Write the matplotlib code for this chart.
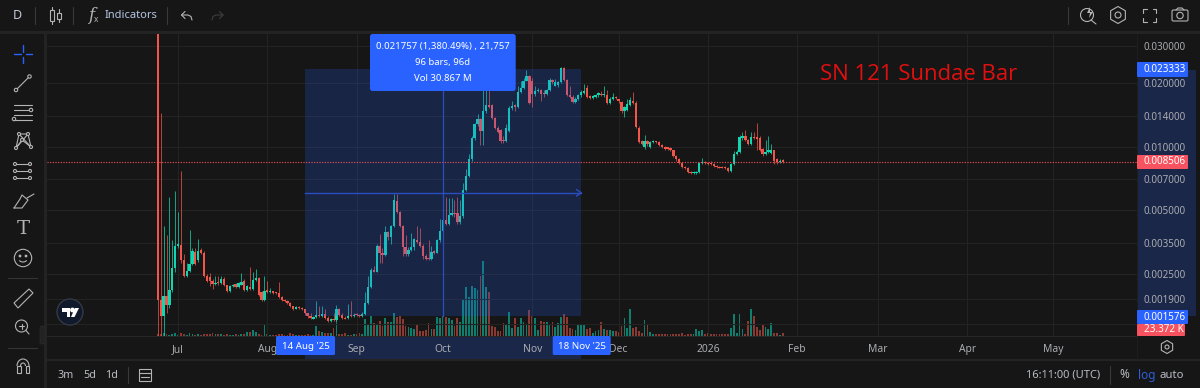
import numpy as np
import matplotlib
matplotlib.use('Agg')
import matplotlib.pyplot as plt
from matplotlib.patches import Rectangle, FancyBboxPatch, Circle, RegularPolygon, Polygon, Arc
from matplotlib.ticker import NullLocator

plt.rcParams['font.family'] = ['Noto Sans', 'DejaVu Sans']

# daily bars
opens = [
    .1200, .00187, .00158, .00195, .00178, .0021, .00265, .0034, .00343, .0029,
    .00243, .00257, .00279, .00318, .0029, .00325, .00315, .00245, .0024, .00232,
    .00224, .00226, .00225, .00237, .0022, .00208, .00218, .00224, .00216, .00222,
    .00232, .0021, .00216, .00212, .00233, .00238, .00205, .00187, .00209, .00205,
    .00207, .00203, .00202, .00193, .00188, .00186, .00182, .00175, .00171, .00173,
    .00172, .0017, .00162, .00158, .00153, .00156, .0016, .00158, .00161, .00155,
    .00149, .00153, .00151, .0017, .0016, .00155, .00154, .0016, .00158, .0016,
    .00159, .00158, .00161, .00181, .00217, .0026, .00256, .0034, .00313, .00308,
    .00395, .00372, .0042, .00555, .0049, .0042, .00335, .0031, .00325, .00335,
    .0036, .00355, .0034, .00305, .00298, .00293, .00318, .00315, .0036, .004,
    .00448, .0043, .00475, .00485, .00485, .0044, .00467, .00625, .0073, .0087,
    .011, .0128, .0135, .0119, .0147, .0157, .0158, .0137, .0123, .012,
    .0108, .0106, .0119, .0152, .0158, .0155, .0182, .019, .0206, .0216,
    .0204, .0178, .0184, .0186, .0178, .0178, .0185, .0208, .0195, .0196,
    .0202, .0236, .0208, .0176, .0173, .0163, .0169, .0175, .0179, .019,
    .0172, .0171, .0172, .0175, .0177, .0175, .0176, .0162, .0168, .0172,
    .0168, .0163, .0147, .015, .0158, .0165, .0162, .0123, .0106, .01,
    .0106, .01, .0105, .0106, .0105, .0102, .01, .0099, .0099, .0096,
    .009, .0087, .0084, .008, .0079, .0076, .0075, .0075, .0076, .0084,
    .0085, .0084, .0084, .0083, .0081, .008, .008, .008, .0079, .0077,
    .0083, .0092, .0094, .011, .0113, .0108, .0103, .0111, .0111, .011,
    .0098, .0092, .0094, .0093, .0096, .0087, .0085, .0086]
closes = [
    .00188, .00158, .00195, .00178, .0021, .00265, .0034, .00343, .0029, .00243,
    .00257, .00279, .0032, .00278, .0032, .00315, .00243, .0023, .0023, .00224,
    .00226, .00225, .00237, .0022, .00208, .00218, .00222, .00216, .00226, .00229,
    .0021, .00218, .00212, .00233, .00238, .00198, .00187, .00207, .00205, .00208,
    .00203, .00202, .00193, .00188, .00186, .00182, .00175, .00171, .00173, .00172,
    .0017, .00162, .00158, .00155, .00156, .0016, .00158, .00161, .00155, .00149,
    .00153, .00151, .0017, .0016, .00154, .00153, .00158, .00158, .0016, .00159,
    .00158, .00161, .00181, .00217, .0026, .00256, .0034, .00313, .00308, .00395,
    .00372, .0042, .0056, .0049, .0042, .00335, .0031, .00325, .00335, .00365,
    .00355, .0034, .00305, .00295, .00293, .00318, .00315, .0036, .004, .00448,
    .0043, .00475, .00485, .00478, .0044, .00467, .00625, .0073, .0087, .011,
    .0128, .0135, .0119, .0147, .0157, .0155, .0137, .0123, .0118, .0106,
    .0106, .0123, .0152, .0156, .0155, .0182, .019, .0206, .0216, .0162,
    .0178, .0184, .0186, .0178, .0177, .0185, .0208, .0203, .0203, .0203,
    .0236, .0208, .0176, .0173, .0163, .0169, .0175, .0181, .0183, .0172,
    .0171, .0172, .0175, .0179, .0176, .0178, .0162, .0168, .0172, .017,
    .0164, .0147, .0154, .016, .0166, .0162, .0124, .0105, .0103, .0106,
    .0103, .0105, .0106, .0105, .0102, .01, .0098, .0098, .0096, .009,
    .0087, .0084, .008, .0079, .0076, .0075, .0076, .0076, .0084, .0085,
    .0084, .0083, .0083, .0081, .008, .0079, .00795, .0079, .0077, .0083,
    .0092, .0094, .0111, .0113, .0108, .0103, .0111, .011, .0109, .0097,
    .0092, .0094, .0096, .0096, .0086, .0085, .0086, .00851]
highs = [
    .2000, .0145, .0042, .00382, .0058, .0036, .0062, .0049, .0077, .0031,
    .0028, .00405, .0033, .0033, .00366, .0033, .0032, .0025, .00252, .00235,
    .00243, .00243, .00243, .0024, .00222, .0022, .00224, .00226, .00228, .00253,
    .00235, .0022, .0027, .00255, .00262, .0024, .00208, .00243, .00232, .00213,
    .00208, .00205, .00228, .00195, .0019, .00188, .00184, .00176, .00175, .00175,
    .00174, .00171, .00163, .00162, .00158, .00185, .00175, .00175, .00171, .00157,
    .00155, .00162, .00178, .00172, .00162, .00158, .0018, .00186, .00163, .00163,
    .00161, .00164, .00205, .00243, .00265, .00272, .00345, .00387, .0033, .0042,
    .004, .00425, .00597, .00597, .00495, .00425, .0038, .00335, .0039, .0037,
    .0042, .0041, .00345, .0031, .0036, .0034, .00325, .00365, .00455, .0046,
    .0058, .0057, .0057, .0056, .0058, .0056, .0067, .0078, .0092, .0112,
    .013, .0143, .0137, .019, .0205, .0205, .016, .0139, .0125, .0122,
    .0112, .0128, .0156, .0165, .016, .0195, .0205, .0212, .023, .0218,
    .0212, .0195, .019, .0188, .0185, .0188, .0212, .021, .021, .0205,
    .0239, .0238, .021, .0195, .0175, .0172, .0178, .0185, .0198, .0197,
    .0175, .0175, .0178, .0181, .0183, .0195, .0185, .0172, .018, .0174,
    .0169, .0165, .0156, .0168, .0172, .0182, .0164, .0125, .0108, .0114,
    .0108, .0107, .0108, .0107, .0106, .0103, .0101, .01, .01, .0097,
    .0091, .0088, .0085, .0081, .008, .0077, .0077, .0077, .0085, .0088,
    .0086, .0085, .0086, .0084, .0082, .0081, .0081, .0081, .008, .0084,
    .0095, .0096, .0114, .0117, .012, .0109, .0118, .0118, .0129, .0112,
    .0099, .0108, .0112, .0103, .0097, .0088, .0087, .0087]
lows = [
    .00125, .00125, .00126, .00163, .00172, .00205, .00255, .0033, .00282, .0024,
    .0024, .00255, .00275, .00275, .00285, .0031, .0024, .00228, .00218, .00212,
    .00222, .00222, .00223, .00218, .00205, .00204, .00216, .00214, .00214, .0022,
    .00208, .00208, .0021, .0021, .00231, .00196, .00185, .00185, .00203, .00203,
    .00201, .002, .00191, .00186, .00184, .0018, .00173, .00169, .0017, .0017,
    .00168, .0016, .00155, .00153, .00152, .00154, .00156, .00156, .00153, .00148,
    .00147, .00149, .00149, .00158, .00152, .00152, .00152, .00156, .00156, .00157,
    .00156, .00156, .0016, .00179, .00215, .00254, .00254, .0028, .0028, .00305,
    .0036, .00345, .00415, .00485, .00415, .00305, .00305, .00305, .00322, .00325,
    .0035, .00335, .00295, .0029, .0029, .0029, .0031, .00312, .00355, .00395,
    .00425, .00425, .0047, .00465, .0043, .0043, .0046, .0062, .0072, .0086,
    .0108, .0126, .0102, .0102, .0145, .0153, .0135, .0121, .0116, .0104,
    .0104, .0105, .0117, .015, .0148, .0153, .018, .0188, .0204, .016,
    .0155, .0174, .0182, .0165, .0172, .0176, .0183, .0198, .0193, .0192,
    .02, .0205, .0174, .0171, .0161, .0161, .0167, .0173, .0177, .017,
    .0168, .0169, .017, .0173, .0174, .0173, .016, .016, .0166, .0168,
    .0162, .0145, .0139, .0148, .0156, .016, .0123, .0104, .0102, .0098,
    .0101, .0099, .0104, .0104, .0101, .0099, .0097, .0097, .0095, .0089,
    .0086, .0083, .0079, .0078, .0075, .0074, .0074, .0074, .0075, .0083,
    .0083, .0082, .0082, .008, .0079, .0079, .0079, .0078, .0076, .0076,
    .0082, .0091, .0093, .0108, .0107, .0102, .0102, .0109, .0097, .0095,
    .009, .0091, .0093, .0092, .0083, .0083, .0084, .0084]
# volume in thousands
volumes = [
    20, 20, 30, 15, 10, 20, 30, 10, 30, 15,
    10, 30, 20, 10, 15, 10, 20, 15, 15, 30,
    20, 15, 15, 10, 15, 10, 10, 15, 10, 20,
    15, 40, 40, 60, 40, 20, 10, 120, 15, 10,
    10, 10, 20, 15, 10, 10, 30, 15, 10, 10,
    10, 10, 15, 10, 10, 100, 50, 40, 30, 30,
    30, 80, 170, 20, 20, 30, 10, 10, 20, 20,
    30, 20, 170, 120, 200, 130, 110, 150, 100, 180,
    140, 140, 230, 190, 200, 170, 100, 90, 80, 70,
    120, 50, 50, 60, 130, 70, 70, 190, 180, 200,
    190, 180, 160, 100, 180, 140, 370, 490, 390, 500,
    480, 460, 600, 750, 490, 440, 100, 90, 50, 50,
    130, 110, 240, 80, 180, 90, 180, 140, 120, 260,
    200, 180, 60, 150, 140, 140, 120, 140, 90, 130,
    190, 220, 190, 80, 70, 60, 120, 110, 120, 70,
    80, 30, 50, 60, 140, 70, 60, 60, 50, 50,
    40, 100, 180, 80, 270, 80, 90, 50, 30, 160,
    120, 40, 20, 20, 20, 20, 20, 20, 15, 15,
    15, 15, 30, 10, 15, 15, 15, 70, 45, 60,
    20, 30, 15, 15, 15, 15, 15, 20, 20, 80,
    220, 30, 220, 70, 20, 150, 270, 200, 90, 60,
    110, 90, 70, 130, 30, 30, 10, 23.372]

month_ticks = [7, 38, 69, 99, 130, 160, 191, 222, 250, 281, 311]
month_labels = ['Jul', 'Aug', 'Sep', 'Oct', 'Nov', 'Dec', '2026', 'Feb', 'Mar', 'Apr', 'May']
price_ticks = [.03, .02, .014, .01, .007, .005, .0035, .0025, .0019]
price_labels = ['0.030000', '0.020000', '0.014000', '0.010000', '0.007000',
                '0.005000', '0.003500', '0.002500', '0.001900']
hidden_grid = .00145

range_start = 51
range_end = 147
range_mid = 99
range_high = .023333
range_low = .001576
range_center = .00605
last_price = .008506

BG = '#161616'
BAND = '#232323'
GRID = '#232323'
TXT = '#aaacb0'
ICON = '#b4b4b4'
BLUE = '#2962ff'
RED = '#f7525f'
UP = '#12d6b0'
DOWN = '#f2554a'
UP_V = '#0e7f6e'
DOWN_V = '#8a3a33'
RANGE_LINE = '#2a4dbf'

fig = plt.figure(figsize=(12, 3.88), dpi=100, facecolor=BG)


def pixel_axes(z):
    a = fig.add_axes([0, 0, 1, 1], zorder=z)
    a.set_xlim(0, 1200)
    a.set_ylim(388, 0)
    a.axis('off')
    a.patch.set_visible(False)
    return a


bg = pixel_axes(0)
fg = pixel_axes(5)

pos = [47 / 1200, (388 - 335.7) / 388, 1090 / 1200, 301.7 / 388]
vax = fig.add_axes(pos, zorder=1)
ax = fig.add_axes(pos, zorder=2)

x = np.arange(len(opens))
o = np.array(opens)
c = np.array(closes)
h = np.array(highs)
l = np.array(lows)
up = c >= o
xlim = (-38.5, 340)

# volume pane
vax.bar(x, volumes, width=0.62, color=[UP_V if u else DOWN_V for u in up], zorder=2)
vax.set_xlim(xlim)
vax.set_ylim(0, 3017)
vax.axis('off')
vax.patch.set_visible(False)

# price pane
ax.patch.set_visible(False)
ax.set_yscale('log')
ax.vlines(x, l, h, colors=[UP if u else DOWN for u in up], linewidth=0.7, alpha=0.75, zorder=3)
bottoms = np.minimum(o, c)
heights = np.maximum(np.abs(o - c), bottoms * 0.012)
ax.bar(x, heights, bottom=bottoms, width=0.8, color=[UP if u else DOWN for u in up],
       edgecolor='none', zorder=4)
ax.set_xlim(xlim)
ax.set_ylim(.001271, .03423)
for s in ax.spines.values():
    s.set_visible(False)
ax.yaxis.tick_right()
ax.set_yticks(price_ticks)
ax.set_yticklabels(price_labels)
ax.yaxis.set_minor_locator(NullLocator())
ax.set_xticks(month_ticks)
ax.set_xticklabels(month_labels)
ax.tick_params(axis='both', length=0, labelsize=7.1, labelcolor=TXT)
ax.tick_params(axis='x', pad=6, labelsize=7.4)
ax.tick_params(axis='y', pad=5)
ax.grid(True, color=GRID, linewidth=0.8, zorder=0)
ax.set_axisbelow(True)
ax.axhline(hidden_grid, color=GRID, linewidth=0.8, zorder=0)
ax.axhline(last_price, color=RED, linewidth=0.8, linestyle=(0, (1, 1.4)), zorder=6)

# measure range
ax.add_patch(Rectangle((range_start, range_low), range_end - range_start, range_high - range_low,
                       facecolor=BLUE, alpha=0.2, edgecolor='none', zorder=5))
ax.plot([range_mid, range_mid], [range_low, range_high], color=RANGE_LINE, linewidth=0.9, zorder=6)
ax.plot([range_start, range_end], [range_center, range_center], color=RANGE_LINE, linewidth=1, zorder=6)
ax.plot([range_end - 1.6, range_end, range_end - 1.6], [range_center * 1.035, range_center, range_center / 1.035],
        color=RANGE_LINE, linewidth=1, zorder=6)

ax.text(.7092, .8674, 'SN 121 Sundae Bar', transform=ax.transAxes, color='#e01010', fontsize=15.9,
        family=['Open Sans', 'DejaVu Sans'], fontweight='medium', va='center', ha='left', zorder=7)

# chrome panels
bg.add_patch(Rectangle((0, 30.5), 1200, 3.5, color=BAND, lw=0))
bg.add_patch(Rectangle((44, 34), 3, 354, color=BAND, lw=0))
bg.add_patch(Rectangle((47, 359), 1153, 2, color=BAND, lw=0))
bg.plot([47, 1137], [336, 336], color='#262626', lw=0.8)
bg.plot([1137, 1137], [34, 359], color='#1e1e1e', lw=0.7)
bg.add_patch(Rectangle((304.7, 336), 276.5, 23, color='#1a2748', lw=0))
bg.add_patch(Rectangle((1138, 70), 58, 246, color='#1a2748', lw=0))


def stroke(a, xs, ys, col=ICON, lw=0.8):
    a.plot(xs, ys, color=col, lw=lw, solid_capstyle='round')


def label(t, px, py, col='#b9bcc2', size=7.8, ha='center', weight='normal'):
    bg.text(px, py, t, color=col, fontsize=size, ha=ha, va='center', fontweight=weight)


# top bar
label('D', 17, 15.5, col='#c4ccd8', size=9)
for sx in [35, 73, 167, 1068]:
    stroke(bg, [sx, sx], [7, 24], col='#3a3a3a')
bg.add_patch(Rectangle((49.5, 10), 4, 11, fill=False, ec=ICON, lw=0.8))
stroke(bg, [51.5, 51.5], [7, 10])
stroke(bg, [51.5, 51.5], [21, 24])
bg.add_patch(Rectangle((57, 12.5), 4, 6, fill=False, ec=ICON, lw=0.8))
stroke(bg, [59, 59], [9, 12.5])
stroke(bg, [59, 59], [18.5, 22])
bg.text(91, 15.5, 'f', color=ICON, fontsize=12, style='italic', ha='center', va='center', family='DejaVu Serif')
bg.text(96, 19.5, 'x', color=ICON, fontsize=6, ha='center', va='center')
label('Indicators', 105, 15.5, col='#b4c6e4', size=8, ha='left')
# undo / redo
stroke(bg, [185, 181.5, 185], [11.5, 15, 18.5])
stroke(bg, [181.5, 188, 191, 192], [15, 15, 16.5, 20])
stroke(bg, [219.5, 223, 219.5], [11.5, 15, 18.5], col='#3e3e3e')
stroke(bg, [223, 216, 213, 212], [15, 15, 16.5, 20], col='#3e3e3e')

# top right icons
bg.add_patch(Circle((1087, 15), 6.5, fill=False, ec=ICON, lw=0.8))
stroke(bg, [1091, 1096], [20, 24])
bg.add_patch(Polygon([[1090, 7], [1087, 13], [1090, 13], [1089, 18], [1093, 12], [1090, 12]], color=ICON, lw=0))
bg.add_patch(RegularPolygon((1118, 15), 6, radius=8.5, fill=False, ec=ICON, lw=0.8, orientation=0))
bg.add_patch(Circle((1118, 15), 3, fill=False, ec=ICON, lw=0.8))
for cx, cy, dx, dy in [(1143, 9, 1, 1), (1156, 9, -1, 1), (1143, 21.5, 1, -1), (1156, 21.5, -1, -1)]:
    stroke(bg, [cx + 3.5 * dx, cx, cx], [cy, cy, cy + 3.5 * dy])
bg.add_patch(FancyBboxPatch((1172, 10), 16, 11, boxstyle='round,pad=0,rounding_size=1.5', fill=False, ec=ICON, lw=0.8))
stroke(bg, [1176, 1178, 1182, 1184], [10, 8, 8, 10])
bg.add_patch(Circle((1180, 15.5), 3.2, fill=False, ec=ICON, lw=0.8))

# left tools
stroke(bg, [14, 20.5], [54, 54], col=BLUE, lw=1)
stroke(bg, [25.5, 32], [54, 54], col=BLUE, lw=1)
stroke(bg, [23, 23], [45, 51.5], col=BLUE, lw=1)
stroke(bg, [23, 23], [56.5, 63], col=BLUE, lw=1)
stroke(bg, [17, 29], [89, 77])
bg.add_patch(Circle((16, 90), 1.7, fc=BG, ec=ICON, lw=0.8, zorder=3))
bg.add_patch(Circle((29.5, 76.5), 1.7, fc=BG, ec=ICON, lw=0.8, zorder=3))
for yy in [105, 110, 115, 120]:
    stroke(bg, [14, 32], [yy, yy])
bg.add_patch(Circle((31, 110), 1.7, fc=BG, ec=ICON, lw=0.8, zorder=3))
bg.add_patch(Circle((14, 119), 1.7, fc=BG, ec=ICON, lw=0.8, zorder=3))
xa = [16, 19, 28, 31, 22, 16]
ya = [148, 134, 134, 147, 140, 148]
stroke(bg, xa, ya)
stroke(bg, [19, 31], [134, 147])
stroke(bg, [28, 16], [134, 148])
for px_, py_ in zip(xa[:-1], ya[:-1]):
    bg.add_patch(Circle((px_, py_), 1.5, fc=BG, ec=ICON, lw=0.8, zorder=3))
for yy in [164, 171, 178]:
    stroke(bg, [16, 31], [yy, yy])
    bg.add_patch(Circle((15, yy), 1.5, fc=BG, ec=ICON, lw=0.8, zorder=3))
    bg.add_patch(Circle((30, yy), 1.5, fc=BG, ec=ICON, lw=0.8, zorder=3))
stroke(bg, [14, 22, 28, 22, 20, 14], [208, 208, 200, 195, 199, 208])
stroke(bg, [27, 34], [198, 194])
label('T', 23, 229, col=ICON, size=14)
bg.texts[-1].set_family('DejaVu Serif')
bg.add_patch(Circle((23, 258), 8.7, fill=False, ec=ICON, lw=0.8))
bg.add_patch(Circle((20, 256), 0.7, color=ICON))
bg.add_patch(Circle((26, 256), 0.7, color=ICON))
bg.add_patch(Arc((23, 259), 8, 6, theta1=20, theta2=160, ec=ICON, lw=0.8))
stroke(bg, [8, 37], [278, 278], col='#353535')
bg.add_patch(Polygon([[14, 303], [29, 289], [33, 293], [18, 308]], fill=False, ec=ICON, lw=0.8))
bg.add_patch(Circle((21.5, 326), 6, fill=False, ec=ICON, lw=0.8))
stroke(bg, [26, 29], [330.5, 334])
stroke(bg, [19, 24], [326, 326])
stroke(bg, [21.5, 21.5], [323.5, 328.5])
bg.add_patch(FancyBboxPatch((40, 326), 5, 18, boxstyle='round,pad=0,rounding_size=2', fc='#222222', ec='#2c2c2c', lw=0.5, zorder=3))
stroke(bg, [8, 37], [348, 348], col='#353535')
bg.add_patch(Arc((23, 366), 12, 14, theta1=180, theta2=360, ec=ICON, lw=0.8))
bg.add_patch(Arc((23, 366), 5, 6, theta1=180, theta2=360, ec=ICON, lw=0.8))
bg.add_patch(Rectangle((17, 366), 3.5, 7, fill=False, ec=ICON, lw=0.8))
bg.add_patch(Rectangle((25.5, 366), 3.5, 7, fill=False, ec=ICON, lw=0.8))

# logo
fg.add_patch(Circle((70, 312), 13, fc='#111a2c', ec='#343844', lw=1))
fg.add_patch(Polygon([[62, 308], [70, 308], [70, 317], [66.5, 317], [66.5, 311.5], [62, 311.5]], color='white', lw=0))
fg.add_patch(Circle((72.5, 310), 1.7, color='white'))
fg.add_patch(Polygon([[75, 308], [79, 308], [74.5, 317], [71, 317]], color='white', lw=0))

# bottom bar
label('3m', 66, 375)
label('5d', 90, 375)
label('1d', 112, 375)
stroke(bg, [128, 128], [367, 383], col='#3a3a3a')
bg.add_patch(Rectangle((139, 369), 12, 12, fill=False, ec=ICON, lw=0.8))
stroke(bg, [139, 151], [372.5, 372.5])
stroke(bg, [141, 149], [376.5, 376.5])
label('16:11:00 (UTC)', 1063.5, 375, size=8)
stroke(bg, [1110, 1110], [366, 384], col='#3a3a3a')
label('%', 1124, 375, size=8.5)
label('log', 1147, 375, col='#2f5fd8', size=8.5)
label('auto', 1172, 375, size=8.2)
bg.add_patch(RegularPolygon((1167, 347), 6, radius=6.5, fill=False, ec=ICON, lw=0.8))
bg.add_patch(Circle((1167, 347), 2, fill=False, ec=ICON, lw=0.8))

# range tooltip and tags
fg.add_patch(FancyBboxPatch((370, 34), 145.7, 57, boxstyle='round,pad=0,rounding_size=2.5', fc=BLUE, ec='none'))
for t, yy in [('0.021757 (1,380.49%) , 21,757', 46.5), ('96 bars, 96d', 62.5), ('Vol 30.867 M', 78.5)]:
    fg.text(443, yy, t, color='white', fontsize=6.9, ha='center', va='center', fontweight='medium')
for t, x0, w in [("14 Aug '25", 276, 59), ("18 Nov '25", 552.7, 58)]:
    fg.add_patch(FancyBboxPatch((x0, 336), w, 19, boxstyle='round,pad=0,rounding_size=1.5', fc=BLUE, ec='none'))
    fg.text(x0 + w / 2, 346.5, t, color='white', fontsize=7, ha='center', va='center', fontweight='medium')
for t, y0, h_, w, col in [('0.023333', 62, 15, 51, BLUE), ('0.008506', 155, 14, 51, RED),
                          ('0.001576', 310, 14, 51, BLUE), ('23.372 K', 324, 12, 48, RED)]:
    fg.add_patch(FancyBboxPatch((1137, y0), w, h_, boxstyle='round,pad=0,rounding_size=1', fc=col, ec='none'))
    fg.text(1144, y0 + h_ / 2, t, color='white', fontsize=7.1, ha='left', va='center', fontweight='medium')

fig.savefig('out.png', dpi=100, facecolor=BG)
